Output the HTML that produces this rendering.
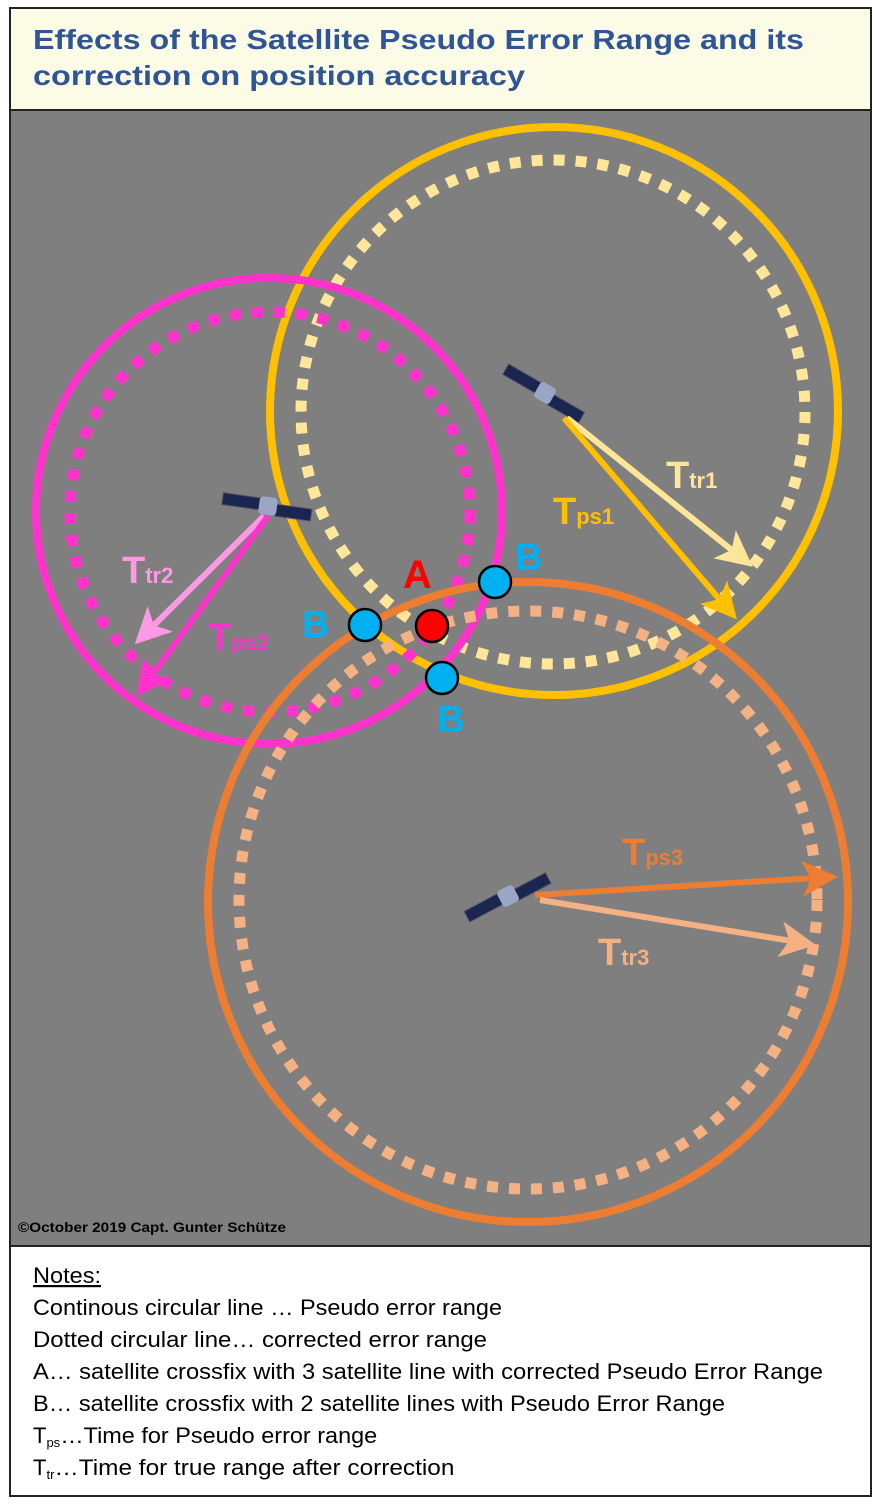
<!DOCTYPE html>
<html><head><meta charset="utf-8"><style>
body{margin:0;width:876px;height:1500px;background:#fff;overflow:hidden;font-family:"Liberation Sans",sans-serif}
</style></head><body>
<svg width="876" height="1500" viewBox="0 0 876 1500" xmlns="http://www.w3.org/2000/svg" font-family="Liberation Sans, sans-serif">
<defs>
<marker id="m1" markerWidth="6" markerHeight="6" refX="5" refY="3" orient="auto" markerUnits="strokeWidth"><path d="M0,0 L6,3 L0,6 L1.5,3z" fill="context-stroke"/></marker>
<g id="sat">
<rect x="-46" y="-7" width="38" height="12" fill="#1a2550" stroke="#556" stroke-width="1"/>
<rect x="8" y="-3" width="36" height="12" fill="#1a2550" stroke="#556" stroke-width="1"/>
<rect x="-9" y="-9" width="18" height="18" rx="4" fill="#9aa6c4"/>
</g>
</defs>
<rect x="10" y="8" width="861" height="1488" fill="#fff" stroke="#222" stroke-width="2"/>
<rect x="11" y="9" width="859" height="101" fill="#fcfce6"/>
<line x1="10" y1="110" x2="871" y2="110" stroke="#222" stroke-width="2"/>
<text x="33" y="49" font-size="28" font-weight="bold" fill="#2f5597" textLength="771" lengthAdjust="spacingAndGlyphs">Effects of the Satellite Pseudo Error Range and its</text>
<text x="33" y="85" font-size="28" font-weight="bold" fill="#2f5597" textLength="492" lengthAdjust="spacingAndGlyphs">correction on position accuracy</text>
<rect x="11" y="111" width="859" height="1135" fill="#7f7f7f"/>
<line x1="10" y1="1246" x2="871" y2="1246" stroke="#222" stroke-width="2"/>
<circle cx="554" cy="411" r="284" fill="none" stroke="#ffc000" stroke-width="8"/>
<circle cx="553" cy="412" r="252" fill="none" stroke="#ffe699" stroke-width="11" stroke-dasharray="11 11"/>
<circle cx="269" cy="511" r="233" fill="none" stroke="#ff33cc" stroke-width="8"/>
<circle cx="270" cy="512" r="200" fill="none" stroke="#ff33cc" stroke-width="11" stroke-dasharray="11 11"/>
<circle cx="528" cy="902" r="320" fill="none" stroke="#ed7d31" stroke-width="8"/>
<circle cx="528" cy="900" r="289" fill="none" stroke="#f4b183" stroke-width="11" stroke-dasharray="11 11"/>
<use href="#sat" transform="translate(545,393) rotate(30)"/>
<use href="#sat" transform="translate(268,506) rotate(8)"/>
<use href="#sat" transform="translate(508,896) rotate(-28)"/>
<g stroke-width="6" fill="none" marker-end="url(#m1)">
<line x1="567" y1="418" x2="748" y2="563" stroke="#ffe699"/>
<line x1="564" y1="418" x2="733" y2="615" stroke="#ffc000"/>
<line x1="264" y1="516" x2="139" y2="640" stroke="#ff99e6"/>
<line x1="268" y1="516" x2="140" y2="692" stroke="#ff33cc"/>
<line x1="535" y1="895" x2="832" y2="877" stroke="#ed7d31"/>
<line x1="540" y1="900" x2="810" y2="944" stroke="#f4b183"/>
</g>
<g font-weight="bold">
<text x="666" y="488" font-size="38" fill="#ffe699">T<tspan font-size="22">tr1</tspan></text>
<text x="553" y="524" font-size="38" fill="#ffc000">T<tspan font-size="22">ps1</tspan></text>
<text x="122" y="583" font-size="38" fill="#ff99e6">T<tspan font-size="22">tr2</tspan></text>
<text x="208" y="650" font-size="38" fill="#ff33cc">T<tspan font-size="22">ps2</tspan></text>
<text x="622" y="865" font-size="38" fill="#ed7d31">T<tspan font-size="22">ps3</tspan></text>
<text x="598" y="965" font-size="38" fill="#f4b183">T<tspan font-size="22">tr3</tspan></text>
<text x="403" y="588" font-size="40" fill="#ff0000">A</text>
<text x="302" y="637" font-size="38" fill="#00b0f0">B</text>
<text x="515" y="570" font-size="38" fill="#00b0f0">B</text>
<text x="437" y="732" font-size="38" fill="#00b0f0">B</text>
</g>
<g stroke="#000" stroke-width="2.5">
<circle cx="365" cy="625" r="16" fill="#00b0f0"/>
<circle cx="495" cy="582" r="16" fill="#00b0f0"/>
<circle cx="442" cy="678" r="16" fill="#00b0f0"/>
<circle cx="432" cy="626" r="16" fill="#ff0000"/>
</g>
<text x="18" y="1232" font-size="14" font-weight="bold" fill="#000" textLength="268" lengthAdjust="spacingAndGlyphs">©October 2019 Capt. Gunter Schütze</text>
<g font-size="22" fill="#000">
<text x="33" y="1283" text-decoration="underline" textLength="68" lengthAdjust="spacingAndGlyphs">Notes:</text>
<text x="33" y="1315" textLength="469" lengthAdjust="spacingAndGlyphs">Continous circular line … Pseudo error range</text>
<text x="33" y="1347" textLength="454" lengthAdjust="spacingAndGlyphs">Dotted circular line… corrected error range</text>
<text x="33" y="1379" textLength="790" lengthAdjust="spacingAndGlyphs">A… satellite crossfix with 3 satellite line with corrected Pseudo Error Range</text>
<text x="33" y="1411" textLength="692" lengthAdjust="spacingAndGlyphs">B… satellite crossfix with 2 satellite lines with Pseudo Error Range</text>
<text x="33" y="1443">T<tspan font-size="13" dy="4">ps</tspan><tspan dy="-4" textLength="317" lengthAdjust="spacingAndGlyphs">…Time for Pseudo error range</tspan></text>
<text x="33" y="1475">T<tspan font-size="13" dy="4">tr</tspan><tspan dy="-4" textLength="400" lengthAdjust="spacingAndGlyphs">…Time for true range after correction</tspan></text>
</g>
</svg>
</body></html>
